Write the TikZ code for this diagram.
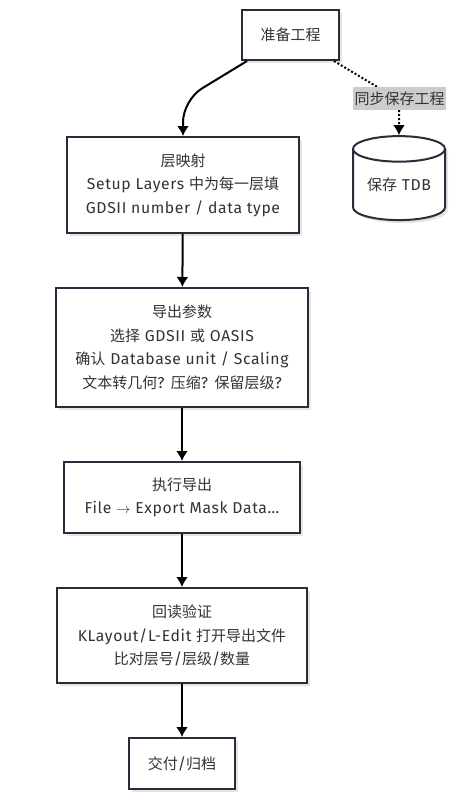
\documentclass[tikz,border=0pt]{standalone}
\usepackage{fontspec}
\setmainfont{Fira Sans}[Scale=1.05,LetterSpace=4]
\newfontfamily\cjk{Noto Sans CJK SC}
\newcommand{\zh}[1]{{\cjk #1}}
\usepackage{tikz}
\usetikzlibrary{shapes.geometric,arrows.meta,shadows}

\definecolor{edgec}{HTML}{2B2B3B}
\definecolor{txtc}{HTML}{333333}
\definecolor{lblbg}{HTML}{CCCCCC}

\begin{document}
\begin{tikzpicture}[x=1pt,y=-1pt,
    box/.style={draw=edgec, line width=2pt, fill=white, text=txtc, align=center,
      inner sep=0pt, font=\fontsize{15}{23.5}\selectfont,
      drop shadow={shadow xshift=3pt, shadow yshift=-3pt, fill=black!10, opacity=1}},
    dbnode/.style={box, cylinder, shape border rotate=90, aspect=0.4},
    lbl/.style={fill=lblbg, text=txtc, inner sep=0pt, minimum width=93pt,
      minimum height=23pt, font=\fontsize{15}{18}\selectfont},
    arr/.style={draw=black, line width=2pt, -{Latex[length=10pt,width=12pt]}},
    dotarr/.style={arr, line width=2pt, dotted}]
    \useasboundingbox (0,0) rectangle (465,796);

    % nodes
    \node[box, minimum width=97pt, minimum height=50pt] (prep) at (290.5,35) {\zh{准备工程}};
    \node[box, minimum width=232pt, minimum height=96pt] (layers) at (183,185)
      {\zh{层映射}\\Setup Layers \zh{中为每一层填}\\GDSII number / data type};
    \node[box, minimum width=252pt, minimum height=119pt] (params) at (182,347.5)
      {\zh{导出参数}\\\zh{选择} GDSII \zh{或} OASIS\\\zh{确认} Database unit / Scaling\\\zh{文本转几何}? \zh{压缩}? \zh{保留层级}?};
    \node[box, minimum width=236pt, minimum height=71pt] (exec) at (182,497.5)
      {\zh{执行导出}\\File $\rightarrow$ Export Mask Data…};
    \node[box, minimum width=250pt, minimum height=95pt] (verify) at (182,635.5)
      {\zh{回读验证}\\KLayout/L-Edit \zh{打开导出文件}\\\zh{比对层号}/\zh{层级}/\zh{数量}};
    \node[box, minimum width=106pt, minimum height=51pt] (deliver) at (182,763.5) {\zh{交付}/\zh{归档}};
    \node[dbnode, minimum width=92pt, minimum height=84pt] (tdb) at (399,185) {\zh{保存} TDB};

    % connectors
    \draw[arr, rounded corners=22pt] ([xshift=6pt]prep.south west) -- (layers.north |- 0,100) -- (layers.north);
    \draw[dotarr, rounded corners=10pt] ([xshift=-6pt]prep.south east) -- (tdb.north |- 0,100) -- (tdb.north);
    \node[lbl] (sync) at (399.5,98.5) {\zh{同步保存工程}};
    \draw[arr] (layers) -- (params);
    \draw[arr] (params) -- (exec);
    \draw[arr] (exec) -- (verify);
    \draw[arr] (verify) -- (deliver);
\end{tikzpicture}
\end{document}
